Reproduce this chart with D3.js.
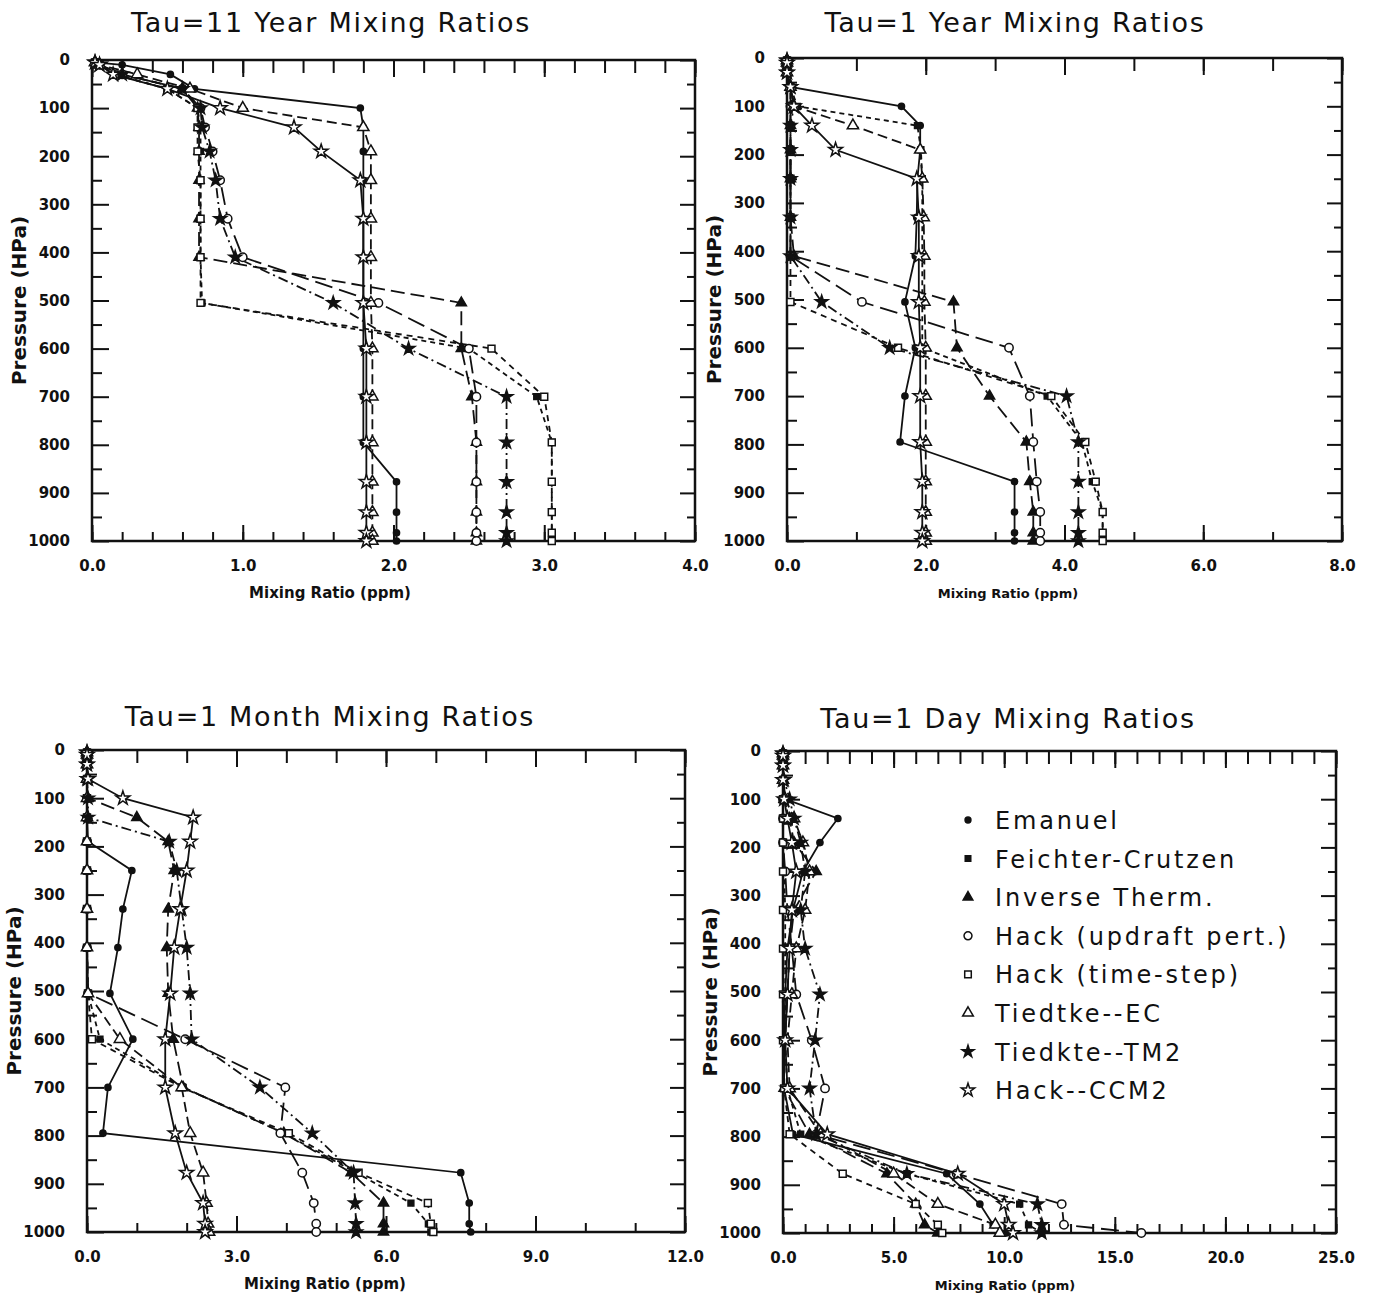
<!DOCTYPE html>
<html>
<head>
<meta charset="utf-8">
<script src="https://cdn.jsdelivr.net/npm/d3@7"></script>
<style>
body { margin: 0; background: #fff; }
svg text { font-family: "DejaVu Sans", sans-serif; fill: #111; }
</style>
</head>
<body>
<svg id="chart" width="1375" height="1297"></svg>
<script>
// pressure levels (hPa) shared by every profile
const levels = [5, 10, 30, 60, 100, 140, 190, 250, 330, 410, 505, 600, 700, 795, 877, 940, 983, 1000];

const schemes = ["Emanuel", "Feichter-Crutzen", "Inverse Therm.", "Hack (updraft pert.)",
    "Hack (time-step)", "Tiedtke--EC", "Tiedkte--TM2", "Hack--CCM2"];

// mixing ratios (ppm), one row per scheme in the order above
const tau11Year = [
    [0.02, 0.20, 0.52, 0.68, 1.78, 1.80, 1.80, 1.80, 1.80, 1.80, 1.80, 1.80, 1.80, 1.80, 2.02, 2.02, 2.02, 2.02],
    [0.02, 0.05, 0.15, 0.50, 0.70, 0.72, 0.72, 0.72, 0.72, 0.72, 0.73, 2.50, 2.95, 3.05, 3.05, 3.05, 3.05, 3.05],
    [0.02, 0.05, 0.20, 0.60, 0.70, 0.71, 0.71, 0.71, 0.71, 0.71, 2.45, 2.45, 2.52, 2.55, 2.55, 2.55, 2.55, 2.55],
    [0.02, 0.05, 0.20, 0.60, 0.72, 0.75, 0.80, 0.85, 0.90, 1.00, 1.90, 2.50, 2.55, 2.55, 2.55, 2.55, 2.55, 2.55],
    [0.02, 0.05, 0.15, 0.50, 0.70, 0.70, 0.70, 0.72, 0.72, 0.72, 0.72, 2.65, 3.00, 3.05, 3.05, 3.05, 3.05, 3.05],
    [0.02, 0.05, 0.30, 0.65, 1.00, 1.80, 1.85, 1.85, 1.85, 1.85, 1.85, 1.86, 1.86, 1.86, 1.86, 1.86, 1.86, 1.86],
    [0.02, 0.05, 0.20, 0.60, 0.72, 0.73, 0.78, 0.82, 0.85, 0.95, 1.60, 2.10, 2.75, 2.75, 2.75, 2.75, 2.75, 2.75],
    [0.02, 0.05, 0.14, 0.50, 0.85, 1.34, 1.52, 1.78, 1.80, 1.80, 1.80, 1.82, 1.82, 1.82, 1.82, 1.82, 1.82, 1.82]
];

const tau1Year = [
    [0, 0, 0, 0.05, 1.65, 1.92, 1.92, 1.88, 1.87, 1.85, 1.70, 1.85, 1.70, 1.63, 3.28, 3.28, 3.28, 3.28],
    [0, 0, 0, 0.05, 0.15, 1.88, 1.93, 1.95, 1.95, 1.95, 1.95, 1.95, 3.75, 4.25, 4.40, 4.55, 4.55, 4.55],
    [0, 0, 0, 0.05, 0.08, 0.05, 0.05, 0.05, 0.05, 0.10, 2.40, 2.45, 2.92, 3.45, 3.50, 3.55, 3.55, 3.55],
    [0, 0, 0, 0.05, 0.05, 0.05, 0.05, 0.05, 0.05, 0.05, 1.08, 3.20, 3.50, 3.55, 3.60, 3.65, 3.65, 3.65],
    [0, 0, 0, 0.05, 0.05, 0.05, 0.05, 0.05, 0.05, 0.05, 0.05, 1.60, 3.81, 4.30, 4.45, 4.55, 4.55, 4.55],
    [0, 0, 0, 0.05, 0.10, 0.95, 1.92, 1.95, 1.97, 1.98, 1.98, 2.00, 2.00, 2.00, 2.00, 2.00, 2.00, 2.00],
    [0, 0, 0, 0.05, 0.10, 0.05, 0.05, 0.05, 0.05, 0.05, 0.50, 1.48, 4.03, 4.20, 4.20, 4.20, 4.20, 4.20],
    [0, 0, 0, 0.05, 0.10, 0.36, 0.70, 1.87, 1.90, 1.90, 1.90, 1.92, 1.92, 1.92, 1.95, 1.95, 1.95, 1.95]
];

const tau1Month = [
    [0, 0, 0, 0, 0, 0, 0.02, 0.90, 0.72, 0.62, 0.46, 0.92, 0.42, 0.32, 7.50, 7.67, 7.67, 7.70],
    [0, 0, 0, 0, 0, 0, 0, 0, 0, 0, 0.02, 0.26, 1.93, 3.95, 5.40, 6.50, 6.85, 6.90],
    [0, 0, 0, 0, 0.02, 1.00, 1.63, 1.75, 1.63, 1.60, 1.63, 1.73, 1.93, 3.95, 5.30, 5.95, 5.95, 5.95],
    [0, 0, 0, 0, 0, 0, 0, 0, 0, 0, 0.02, 1.97, 3.98, 3.88, 4.32, 4.55, 4.60, 4.60],
    [0, 0, 0, 0, 0, 0, 0, 0, 0, 0, 0.02, 0.10, 1.90, 4.05, 5.45, 6.84, 6.90, 6.95],
    [0, 0, 0, 0, 0, 0, 0, 0, 0, 0, 0.02, 0.66, 1.90, 2.07, 2.33, 2.40, 2.43, 2.45],
    [0, 0, 0, 0, 0.02, 0.02, 1.65, 1.80, 1.90, 2.00, 2.07, 2.10, 3.47, 4.52, 5.35, 5.38, 5.40, 5.40],
    [0, 0, 0, 0.02, 0.72, 2.13, 2.07, 2.00, 1.87, 1.75, 1.67, 1.57, 1.57, 1.77, 2.00, 2.33, 2.37, 2.37]
];

const tau1Day = [
    [0, 0, 0, 0.02, 0.10, 2.48, 1.67, 0.90, 0.45, 0.20, 0.10, 0.05, 0.05, 0.45, 7.40, 8.90, 9.50, 10.10],
    [0, 0, 0, 0, 0, 0, 0, 0.05, 0.10, 0.10, 0.10, 0.10, 0.20, 0.80, 5.60, 10.70, 11.10, 11.70],
    [0, 0, 0, 0, 0.05, 0.30, 0.50, 1.50, 0.50, 0.30, 0.20, 0.10, 0.05, 1.20, 4.70, 6.00, 6.40, 7.00],
    [0, 0, 0, 0, 0, 0, 0, 0.10, 0.20, 0.40, 0.60, 1.30, 1.90, 1.50, 7.85, 12.60, 12.70, 16.20],
    [0, 0, 0, 0, 0, 0, 0, 0, 0, 0, 0, 0, 0.05, 0.30, 2.70, 6.00, 7.00, 7.20],
    [0, 0, 0, 0, 0.10, 0.50, 0.90, 1.20, 1.00, 0.60, 0.40, 0.20, 0.30, 1.70, 5.00, 7.00, 9.60, 9.80],
    [0, 0, 0, 0.05, 0.30, 0.50, 0.80, 1.00, 0.80, 1.00, 1.67, 1.45, 1.20, 1.50, 5.60, 11.50, 11.70, 11.70],
    [0, 0, 0, 0, 0.05, 0.20, 0.40, 0.60, 0.40, 0.30, 0.20, 0.10, 0.20, 2.00, 7.90, 10.00, 10.20, 10.40]
];

const panelTitles = ["Tau=11 Year Mixing Ratios", "Tau=1 Year Mixing Ratios",
    "Tau=1 Month Mixing Ratios", "Tau=1 Day Mixing Ratios"];
const panelData = [tau11Year, tau1Year, tau1Month, tau1Day];
const xMaxes = [4, 8, 12, 25];
const xMinorSteps = [0.2, 1, 1, 1];
const xLabelSteps = [1, 2, 3, 5];
const pressureTicks = [0, 100, 200, 300, 400, 500, 600, 700, 800, 900, 1000];
const pressureMinor = [50, 150, 250, 350, 450, 550, 650, 750, 850, 950];

const boxes = [
    {left: 92, right: 695, top: 60, bottom: 541, xlabel: 15, titleX: 331, titleY: 32, labelX: 330},
    {left: 787, right: 1342, top: 58, bottom: 541, xlabel: 13, titleX: 1015, titleY: 32, labelX: 1008},
    {left: 87, right: 685, top: 750, bottom: 1232, xlabel: 15, titleX: 330, titleY: 726, labelX: 325},
    {left: 783, right: 1336, top: 751, bottom: 1233, xlabel: 13, titleX: 1008, titleY: 728, labelX: 1005}
];

// marker + dash style per scheme
const markers = [
    {type: d3.symbolCircle, size: 30, filled: true},
    {type: d3.symbolSquare, size: 34, filled: true},
    {type: d3.symbolTriangle, size: 45, filled: true},
    {type: d3.symbolCircle, size: 55, filled: false},
    {type: d3.symbolSquare, size: 48, filled: false},
    {type: d3.symbolTriangle, size: 55, filled: false},
    {type: d3.symbolStar, size: 50, filled: true},
    {type: d3.symbolStar, size: 60, filled: false}
];
const dashes = [null, "5,4", "14,6", "18,7", "6,5", "10,5", "10,4,2,4", null];

const svg = d3.select("#chart");

function drawPanel(i) {
    const box = boxes[i];
    const g = svg.append("g").attr("class", "panel");
    const x = d3.scaleLinear().domain([0, xMaxes[i]]).range([box.left, box.right]);
    const y = d3.scaleLinear().domain([0, 1000]).range([box.top, box.bottom]);

    const minorX = d3.range(0, xMaxes[i] + 1e-9, xMinorSteps[i]);
    const majorX = d3.range(0, xMaxes[i] + 1e-9, xLabelSteps[i]);

    //inside ticks on all four sides, minor then major
    const axes = [
        [d3.axisBottom(x).tickValues(minorX).tickSize(-9).tickFormat(""), `translate(0,${box.bottom})`],
        [d3.axisBottom(x).tickValues(majorX).tickSize(-16).tickPadding(19).tickFormat(d3.format(".1f")), `translate(0,${box.bottom})`],
        [d3.axisTop(x).tickValues(minorX).tickSize(-13).tickFormat(""), `translate(0,${box.top})`],
        [d3.axisTop(x).tickValues(majorX).tickSize(-17).tickFormat(""), `translate(0,${box.top})`],
        [d3.axisLeft(y).tickValues(pressureMinor).tickSize(-10).tickFormat(""), `translate(${box.left},0)`],
        [d3.axisLeft(y).tickValues(pressureTicks).tickSize(-17).tickPadding(22).tickFormat(d3.format("d")), `translate(${box.left},0)`],
        [d3.axisRight(y).tickValues(pressureMinor).tickSize(-8).tickFormat(""), `translate(${box.right},0)`],
        [d3.axisRight(y).tickValues(pressureTicks).tickSize(-15).tickFormat(""), `translate(${box.right},0)`]
    ];
    axes.forEach(([ax, tr]) => {
        const a = g.append("g").attr("transform", tr).call(ax);
        a.select(".domain").remove();
        a.selectAll("line").attr("stroke", "#111").attr("stroke-width", 2);
        a.selectAll("text").attr("font-size", 15).attr("font-weight", "bold")
            .attr("font-family", "DejaVu Sans, sans-serif").attr("fill", "#111");
    });

    g.append("rect")
        .attr("x", box.left).attr("y", box.top)
        .attr("width", box.right - box.left).attr("height", box.bottom - box.top)
        .attr("fill", "none").attr("stroke", "#111").attr("stroke-width", 2.5);

    // profiles
    const line = d3.line().x(d => x(d.v)).y(d => y(d.p));
    panelData[i].forEach((vals, s) => {
        const pts = vals.map((v, k) => ({v: v, p: levels[k]}));
        g.append("path").datum(pts)
            .attr("d", line)
            .attr("fill", "none").attr("stroke", "#111").attr("stroke-width", 1.8)
            .attr("stroke-dasharray", dashes[s]);
    });
    panelData[i].forEach((vals, s) => {
        const m = markers[s];
        g.selectAll(null).data(vals.map((v, k) => ({v: v, p: levels[k]})))
            .enter().append("path")
            .attr("transform", d => `translate(${x(d.v)},${y(d.p)})`)
            .attr("d", d3.symbol(m.type, m.size))
            .attr("fill", m.filled ? "#111" : "#fff")
            .attr("stroke", "#111").attr("stroke-width", 1.5);
    });

    // titles
    g.append("text")
        .attr("x", box.titleX).attr("y", box.titleY)
        .attr("text-anchor", "middle").attr("font-size", 27)
        .attr("letter-spacing", 1.7).text(panelTitles[i]);

    g.append("text")
        .attr("transform", `translate(${box.left - 66},${(box.top + box.bottom) / 2}) rotate(-90)`)
        .attr("text-anchor", "middle").attr("font-size", 20).attr("font-weight", "bold")
        .text("Pressure (HPa)");

    g.append("text")
        .attr("x", box.labelX).attr("y", box.bottom + 57)
        .attr("text-anchor", "middle").attr("font-size", box.xlabel).attr("font-weight", "bold")
        .text("Mixing Ratio (ppm)");
}

d3.range(4).forEach(drawPanel);

// legend inside the last panel
const legend = svg.append("g").attr("class", "legend");
schemes.forEach((name, s) => {
    const cy = 820 + s * 38.6;
    const m = markers[s];
    legend.append("path")
        .attr("transform", `translate(968,${cy})`)
        .attr("d", d3.symbol(m.type, m.size * 0.9))
        .attr("fill", m.filled ? "#111" : "#fff")
        .attr("stroke", "#111").attr("stroke-width", 1.5);
    legend.append("text")
        .attr("x", 995).attr("y", cy + 9)
        .attr("font-size", 24).attr("letter-spacing", 2.8)
        .text(name);
});
</script>
</body>
</html>
